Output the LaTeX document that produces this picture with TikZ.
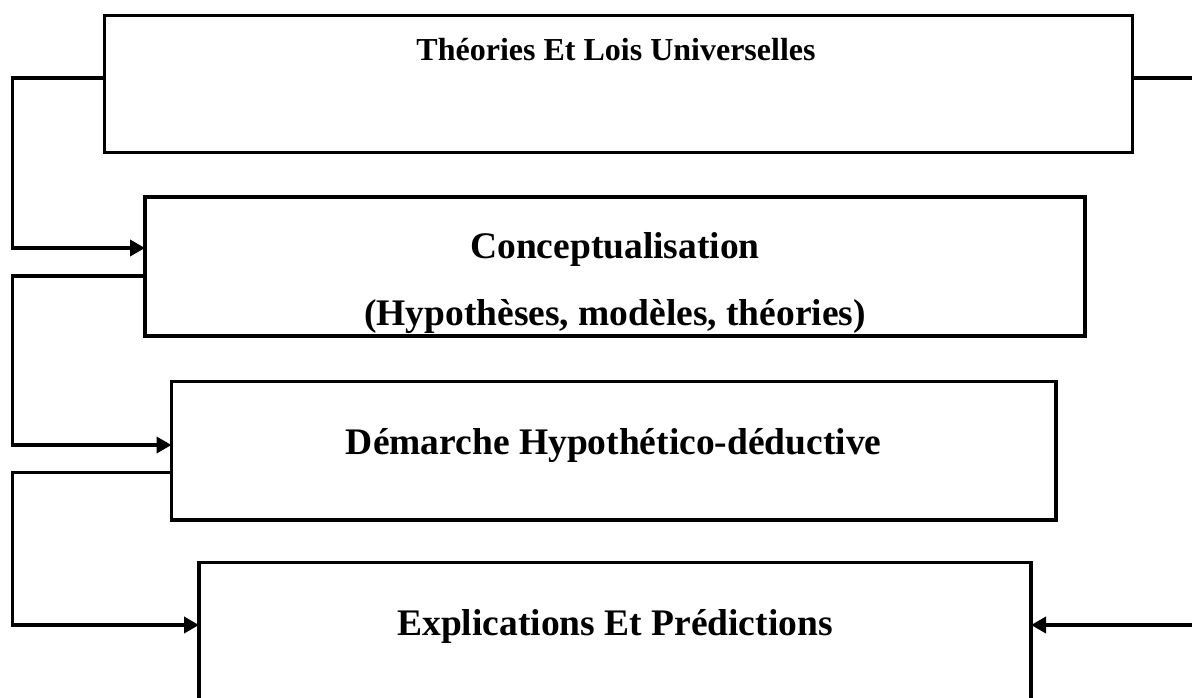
\documentclass[tikz,border=0pt]{standalone}
\usepackage{fontspec}
\setmainfont{Liberation Serif}
\usetikzlibrary{arrows.meta,calc}
\begin{document}
\begin{tikzpicture}[x=1pt,y=-1pt,
  boxnode/.style={draw=black,line width=3.8pt,inner sep=0pt,outer sep=0pt,anchor=north west},
  lbl/.style={inner sep=0pt,anchor=base,font=\bfseries\fontsize{37.5}{40}\selectfont},
  conn/.style={line width=3.6pt,line join=miter},
  arr/.style={conn,-{Triangle[length=15pt,width=16pt]}}]
\useasboundingbox (0,0) rectangle (1192,697);
\clip (0,0) rectangle (1192,697);
\node[boxnode,minimum width=1028pt,minimum height=137pt] (b1) at (104.5,15.5) {};
\node[boxnode,minimum width=940pt,minimum height=139pt] (b2) at (145,197) {};
\node[boxnode,minimum width=884.5pt,minimum height=138.5pt] (b3) at (171.5,381.5) {};
\node[boxnode,minimum width=832pt,minimum height=180pt] (b4) at (199,562.5) {};
\node[lbl,font=\bfseries\fontsize{32}{34}\selectfont] (t1) at (616,60) {Théories Et Lois Universelles};
\node[lbl] (t2) at (615,258) {Conceptualisation};
\node[lbl] (t3) at (615,325) {(Hypothèses, modèles, théories)};
\node[lbl] (t4) at (613.75,454) {Démarche Hypothético-déductive};
\node[lbl] (t5) at (615,635) {Explications Et Prédictions};
\coordinate (re1) at (1192,78);
\coordinate (re2) at (1192,625);
\draw[arr] (b1.west |- re1) -| (12.5,248) -- (b2.west |- 0,248);
\draw[arr] (b2.west |- 0,276) -| (12.5,445) -- (b3.west |- 0,445);
\draw[arr] (b3.west |- 0,472.5) -| (12.5,625) -- (b4.west |- 0,625);
\draw[conn] (b1.east |- re1) -- (re1);
\draw[arr] (re2) -- (b4.east |- re2);
\end{tikzpicture}
\end{document}
